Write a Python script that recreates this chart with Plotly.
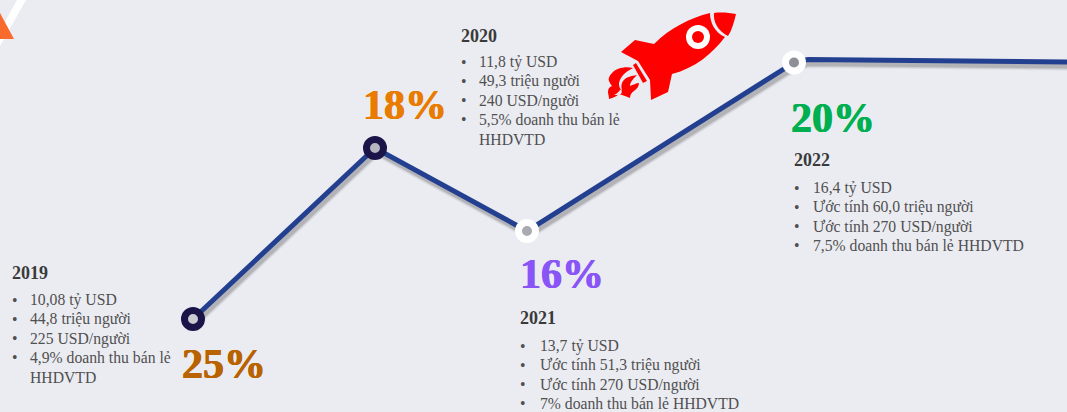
import plotly.graph_objects as go

years = ["2019", "2020", "2021", "2022"]
growth = ["25%", "18%", "16%", "20%"]
growth_colors = ["#B86200", "#E87B00", "#8A55F7", "#00B050"]
line_x = [193, 375, 527, 795, 808, 1067]
line_y = [319, 148, 231, 62, 59.5, 62]
marker_x = [193, 375, 527, 794]
marker_y = [319, 148, 231, 62.5]
ring_colors = ["#1A1548", "#1A1548", "#FFFFFF", "#FFFFFF"]
hole_colors = ["#C9CAD2", "#B4B5BE", "#A9AAB0", "#8F9096"]
details = [
    ["10,08 tỷ USD", "44,8 triệu người", "225 USD/người", "4,9% doanh thu bán lẻ", None],
    ["11,8 tỷ USD", "49,3 triệu người", "240 USD/người", "5,5% doanh thu bán lẻ", None],
    ["13,7 tỷ USD", "Ước tính 51,3 triệu người", "Ước tính 270 USD/người", "7% doanh thu bán lẻ HHDVTD"],
    ["16,4 tỷ USD", "Ước tính 60,0 triệu người", "Ước tính 270 USD/người", "7,5% doanh thu bán lẻ HHDVTD"],
]
continuation = ["HHDVTD", "HHDVTD", None, None]

title_pos = [(11, 273), (460, 36), (519, 318), (793, 160)]
pct_pos = [(181, 364), (362, 105), (519, 274), (790, 118)]
bullet_x = [11, 460, 519, 793]
text_x = [29, 478, 539, 812]
first_y = [300, 62, 346, 188]
step = 19.3
FONT = "Liberation Serif"

fig = go.Figure()
# soft shadow under the line
for dx, dy, w, a in [(2, 4, 9, 0.07), (2, 4, 7, 0.10), (2, 4, 5, 0.18)]:
    fig.add_trace(go.Scatter(x=[v + dx for v in line_x], y=[v + dy for v in line_y], mode="lines",
                             line=dict(color=f"rgba(60,60,60,{a})", width=w), hoverinfo="skip", showlegend=False))
fig.add_trace(go.Scatter(x=line_x, y=line_y, mode="lines", line=dict(color="#233F8F", width=5),
                         hoverinfo="skip", showlegend=False))
fig.add_trace(go.Scatter(x=marker_x, y=marker_y, mode="markers",
                         marker=dict(size=17, color=hole_colors, line=dict(color=ring_colors, width=7)),
                         hoverinfo="skip", showlegend=False))

ann = []
def text(x, y, s, size, color, bold=False, heavy=False):
    font = dict(family=FONT, size=size, color=color)
    if heavy:
        font["shadow"] = f"0.4px 0 0 {color}, -0.4px 0 0 {color}"
    ann.append(dict(x=x, y=y, xref="x", yref="y", text=f"<b>{s}</b>" if bold else s, showarrow=False,
                    xanchor="left", yanchor="middle", align="left", borderpad=0, font=font))

for i, yr in enumerate(years):
    text(title_pos[i][0], title_pos[i][1], yr, 18, "#3A3A3A", True)
    text(pct_pos[i][0], pct_pos[i][1], growth[i], 42, growth_colors[i], True, True)
    row = 0
    for line in details[i]:
        if line is None:
            continue
        y = first_y[i] + row * step
        text(bullet_x[i], y, "•", 15.7, "#505050")
        text(text_x[i], y, line, 15.7, "#505050")
        row += 1
    if continuation[i]:
        text(text_x[i], first_y[i] + row * step, continuation[i], 15.7, "#505050")

RED = "#FF0000"
BG = "#EBECF2"
def solid(path, color=RED):
    return dict(type="path", xref="x", yref="y", line=dict(width=0), fillcolor=color, path=path)

shapes = [
    solid("M 17 0 L 26 0 L 4 39 L 0 46 L 0 31 Z", "#FFFFFF"),
    solid("M 0 13 L 14 39 L 0 39 Z", "#F96B2D"),
    # rocket body with fins
    solid("M 710 13 C 690 18 670 28 654 44 L 635 40 L 621 52 L 638 61 L 650 80 "
          "L 651 100 L 668 92 L 672 74 C 695 68 712 54 725 37 C 714 32 710 22 710 13 Z"),
    # nose
    solid("M 714 13 C 722 12 730 13 736 14 C 734 22 732 30 728 36 C 718 31 713 22 714 13 Z"),
    # porthole
    dict(type="circle", xref="x", yref="y", x0=686, x1=710, y0=25, y1=49, line=dict(width=0), fillcolor="#FFFFFF"),
    dict(type="circle", xref="x", yref="y", x0=692, x1=704, y0=31, y1=43, line=dict(width=0), fillcolor=RED),
    # engine strip
    solid("M 633 65 L 636 63 L 647 81 L 643 83 Z"),
    # flame
    solid("M 633 68 C 626 66 616 68 612 73 C 609 76 608 79 609 81 C 610 83 611 85 612 86 "
          "C 609 87 608 89 608 92 C 608 94 609 96 609 99 C 612 98 616 97 619 94 "
          "C 623 95 627 97 630 98 C 630 95 631 93 634 91 C 637 89 639 86 639 83 "
          "C 636 83 633 85 630 86 C 630 82 634 78 637 75 C 631 76 626 77 623 81 "
          "C 621 84 621 87 622 90 C 619 88 618 84 620 80 C 622 75 627 71 633 68 Z"),
    solid("M 614 95 C 617 94 619 91 621 89 C 622 91 622 92 621 94 C 619 95 616 95 614 95 Z", BG),
]

fig.update_layout(
    width=1067, height=412, autosize=False,
    margin=dict(l=0, r=0, t=0, b=0),
    paper_bgcolor=BG, plot_bgcolor=BG,
    xaxis=dict(range=[0, 1067], visible=False, fixedrange=True),
    yaxis=dict(range=[412, 0], visible=False, fixedrange=True),
    annotations=ann, shapes=shapes, showlegend=False,
)
fig.write_html("out.html", config=dict(displayModeBar=False),
               post_script="document.body.style.margin='0';document.body.style.overflow='hidden';document.body.style.background='#EBECF2';")
